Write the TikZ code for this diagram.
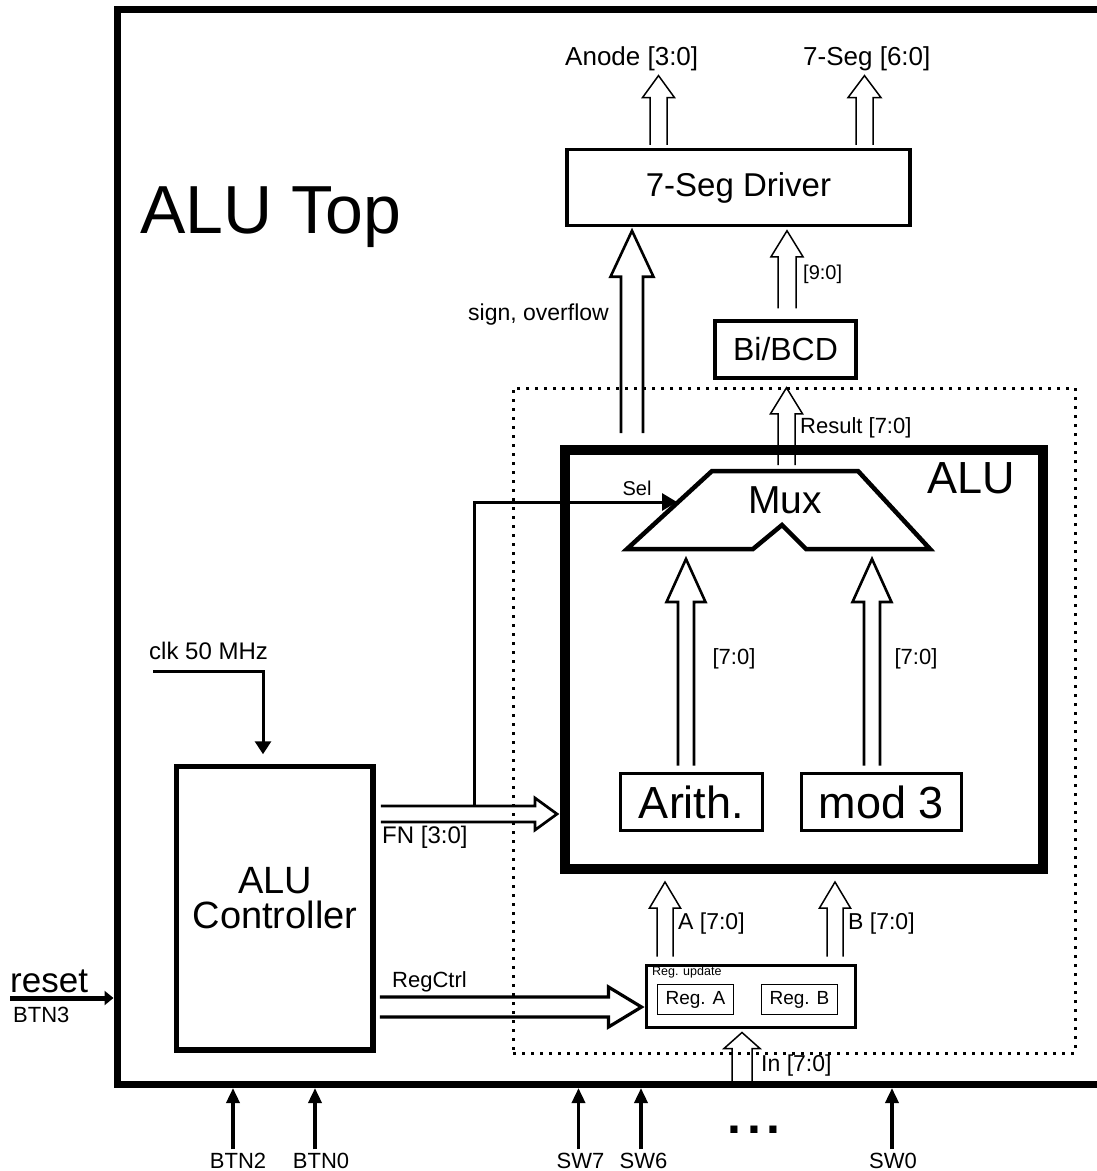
\documentclass[tikz,border=0pt]{standalone}
\usepackage{fontspec}
\setmainfont{Liberation Sans}
\usetikzlibrary{arrows.meta}
\newcommand\fsz[1]{\fontsize{#1}{#1}\selectfont}
% hollow bus arrow going up: #1 start, #2 tip, #3 half shaft, #4 half head, #5 head length, #6 style
\newcommand\upbus[6]{\draw[#6] ([xshift=-#3pt]#1) -- ([xshift=-#3pt,yshift=-#5pt]#2) -- ([xshift=-#4pt,yshift=-#5pt]#2) -- (#2) -- ([xshift=#4pt,yshift=-#5pt]#2) -- ([xshift=#3pt,yshift=-#5pt]#2) -- ([xshift=#3pt]#1);}
% hollow bus arrow going right
\newcommand\rightbus[6]{\draw[#6] ([yshift=#3pt]#1) -- ([yshift=#3pt,xshift=-#5pt]#2) -- ([yshift=#4pt,xshift=-#5pt]#2) -- (#2) -- ([yshift=-#4pt,xshift=-#5pt]#2) -- ([yshift=-#3pt,xshift=-#5pt]#2) -- ([yshift=-#3pt]#1);}
\begin{document}
\begin{tikzpicture}[x=1pt,y=-1pt,
  box/.style={draw,rectangle,inner sep=0pt,line width=3.5pt},
  txt/.style={inner sep=0pt},
  thinbus/.style={line width=1.5pt,line join=miter},
  thickbus/.style={line width=2.6pt,line join=miter},
  fnbus/.style={line width=2.7pt,line join=miter},
  rcbus/.style={line width=3.2pt,line join=miter},
  sig/.style={line width=3.5pt,-{Triangle[length=15pt,width=13pt]}},
]
\useasboundingbox (0,0) rectangle (1097,1171);
\fill[white] (0,0) rectangle (1097,1171);

% outer frame (open to the right)
\draw[line width=7pt] (1097,9.5) -- (117,9.5) -- (117,1084.5) -- (1097,1084.5);
\coordinate (fbot) at (0,1088);
\coordinate (finner) at (0,1081);
\coordinate (fleft) at (113.5,0);

\node[txt, anchor=base west, font=\fsz{68}] (title) at (140,233) {ALU Top};

% blocks
\node[box, minimum width=343pt, minimum height=76pt, font=\fsz{33}] (drv) at (738.5,187.5) {7-Seg Driver};
\node[box, minimum width=141pt, minimum height=57pt, font=\fsz{32}] (bcd) at (785.5,349.5) {Bi/BCD};
\node[draw, line width=3pt, dash pattern=on 3pt off 6pt, inner sep=0pt, minimum width=562pt, minimum height=665pt] (wrap) at (794,720.5) {};
\node[draw, line width=10pt, inner sep=0pt, minimum width=478pt, minimum height=419pt] (alu) at (804,659.5) {};
\node[txt, font=\fsz{45}] (alulbl) at (971,478) {ALU};

% mux
\draw[line width=4.5pt, line join=miter] (712,471) -- (858,471) -- (930,549) -- (806,549) -- (782,525) -- (753,549) -- (627,549) -- cycle;
\node[txt, font=\fsz{39}] (mux) at (785,500) {Mux};
\coordinate (muxT) at (786.5,471);
\coordinate (muxBL) at (686,549);
\coordinate (muxBR) at (872,549);
\coordinate (muxS) at (677,502);

\node[box, line width=3pt, minimum width=142pt, minimum height=57pt, font=\fsz{45}] (arith) at (691.5,802) {Arith.};
\node[box, line width=3pt, minimum width=160pt, minimum height=57pt, font=\fsz{45}] (mod) at (881.5,802) {mod 3};

\node[box, line width=5.5pt, minimum width=196.5pt, minimum height=283.5pt] (ctrl) at (274.75,908.25) {};
\node[txt, align=center, font=\fontsize{38}{35}\selectfont] (ctrltxt) at (275,898) {ALU\\Controller};

\node[box, line width=3pt, minimum width=209pt, minimum height=62pt] (reg) at (751,996.5) {};
\node[txt, anchor=base west, font=\fsz{12.5}] (regup) at (652,975) {Reg. update};
\node[box, line width=1.5pt, minimum width=76pt, minimum height=30pt, font=\fsz{19}] (rega) at (695.5,999.5) {Reg. A};
\node[box, line width=1.5pt, minimum width=76pt, minimum height=30pt, font=\fsz{19}] (regb) at (799.5,999.5) {Reg. B};

% labels
\node[txt, anchor=base west, font=\fsz{26}] (anode) at (565,65) {Anode [3:0]};
\node[txt, anchor=base west, font=\fsz{26}] (sevseg) at (803,65) {7-Seg [6:0]};
\node[txt, anchor=base west, font=\fsz{20}] (l90) at (803,279) {[9:0]};
\node[txt, anchor=base west, font=\fsz{23}] (lso) at (468,320) {sign, overflow};
\node[txt, anchor=base west, font=\fsz{22}] (lres) at (800,433) {Result [7:0]};
\node[txt, anchor=base, font=\fsz{20}] (lsel) at (637,495) {Sel};
\node[txt, anchor=base, font=\fsz{22}] (l70a) at (734,664) {[7:0]};
\node[txt, anchor=base, font=\fsz{22}] (l70b) at (916,664) {[7:0]};
\node[txt, anchor=base west, font=\fsz{24}] (lfn) at (382,843) {FN [3:0]};
\node[txt, anchor=base west, font=\fsz{24}] (lclk) at (149,659) {clk 50 MHz};
\node[txt, anchor=base west, font=\fsz{22}] (lrc) at (392,987) {RegCtrl};
\node[txt, anchor=base west, font=\fsz{23}] (lA) at (678,929) {A [7:0]};
\node[txt, anchor=base west, font=\fsz{23}] (lB) at (848,929) {B [7:0]};
\node[txt, anchor=base west, font=\fsz{23}] (lin) at (761,1071) {In [7:0]};
\node[txt, anchor=base west, font=\fsz{35}] (reset) at (10,992) {reset};
\node[txt, anchor=base west, font=\fsz{22}] (btn3) at (13,1022) {BTN3};
\node[txt, anchor=base, font=\fsz{22}] (btn2) at (238,1168) {BTN2};
\node[txt, anchor=base, font=\fsz{22}] (btn0) at (321,1168) {BTN0};
\node[txt, anchor=base, font=\fsz{22}] (sw7) at (580.5,1168) {SW7};
\node[txt, anchor=base, font=\fsz{22}] (sw6) at (643.5,1168) {SW6};
\node[txt, anchor=base, font=\fsz{22}] (sw0) at (893,1168) {SW0};
\node[txt, anchor=base, font=\bfseries\fsz{50}] (dots) at (754,1133) {.\hspace{5.5pt}.\hspace{5.5pt}.};

% hollow buses
\coordinate (xan) at (658.5,0);
\path (drv.north -| xan) ++(0,-3) coordinate (anB);
\path (anode.south -| xan) ++(0,5) coordinate (anT);
\upbus{anB}{anT}{8.5}{16}{22}{thinbus}

\coordinate (xsg) at (864.5,0);
\path (drv.north -| xsg) ++(0,-3) coordinate (sgB);
\path (sevseg.south -| xsg) ++(0,5) coordinate (sgT);
\upbus{sgB}{sgT}{8.5}{16.5}{22}{thinbus}

\coordinate (xso) at (632,0);
\path (alu.north -| xso) ++(0,-12) coordinate (soB);
\path (drv.south -| xso) ++(0,3.5) coordinate (soT);
\upbus{soB}{soT}{11}{21.5}{46}{thickbus}

\coordinate (x90) at (787,0);
\path (bcd.north -| x90) ++(0,-11) coordinate (nB);
\path (drv.south -| x90) ++(0,3.5) coordinate (nT);
\upbus{nB}{nT}{9}{16}{26}{thinbus}

\coordinate (xres) at (786.5,0);
\path (muxT -| xres) ++(0,-6) coordinate (rB);
\path (bcd.south -| xres) ++(0,8) coordinate (rT);
\upbus{rB}{rT}{8.5}{16}{26}{thinbus}

\coordinate (xar) at (686,0);
\path (arith.north -| xar) ++(0,-6.5) coordinate (aB);
\path (muxBL) ++(0,10) coordinate (aT);
\upbus{aB}{aT}{8}{19.5}{43}{thickbus}

\coordinate (xmd) at (872,0);
\path (mod.north -| xmd) ++(0,-6.5) coordinate (mB);
\path (muxBR) ++(0,10) coordinate (mT);
\upbus{mB}{mT}{8}{19.5}{43}{thickbus}

\coordinate (xA) at (665,0);
\path (reg.north -| xA) ++(0,-7.5) coordinate (AB);
\path (alu.south -| xA) ++(0,8) coordinate (AT);
\upbus{AB}{AT}{8}{15.5}{26}{thinbus}

\coordinate (xB) at (835,0);
\path (reg.north -| xB) ++(0,-7.5) coordinate (BB);
\path (alu.south -| xB) ++(0,8) coordinate (BT);
\upbus{BB}{BT}{8}{15.5}{26}{thinbus}

\coordinate (xin) at (742,0);
\path (finner -| xin) coordinate (iB);
\path (reg.south -| xin) ++(0,3.5) coordinate (iT);
\upbus{iB}{iT}{10}{18}{16}{thinbus}

\coordinate (yfn) at (0,814);
\path (ctrl.east |- yfn) ++(5,0) coordinate (fS);
\path (alu.west |- yfn) ++(-3,0) coordinate (fT);
\rightbus{fS}{fT}{8}{16}{22}{fnbus}

\coordinate (yrc) at (0,1007);
\path (ctrl.east |- yrc) ++(4,0) coordinate (rcS);
\path (reg.west |- yrc) ++(-3.5,0) coordinate (rcT);
\rightbus{rcS}{rcT}{10}{20}{33}{rcbus}

% single-line signals
\coordinate (selB) at (474,806);
\draw[line width=3pt, -{Triangle[length=15pt,width=17pt]}] (selB) |- (muxS);

\coordinate (clkS) at (153,671);
\coordinate (xclk) at (263,0);
\path (ctrl.north -| xclk) ++(0,-9.5) coordinate (clkE);
\draw[line width=3pt, -{Triangle[length=13pt,width=16pt]}] (clkS) -| (clkE);

\coordinate (rstS) at (10,998);
\draw[line width=5pt, -{Triangle[length=9pt,width=14pt]}] (rstS) -- (rstS -| fleft);

\path (btn2.north) ++(-5,-3) coordinate (b2);
\draw[sig] (b2) -- (b2 |- fbot);
\path (btn0.north) ++(-6,-3) coordinate (b0);
\draw[sig] (b0) -- (b0 |- fbot);
\path (sw7.north) ++(-2,-3) coordinate (s7);
\draw[sig] (s7) -- (s7 |- fbot);
\path (sw6.north) ++(-2.5,-3) coordinate (s6);
\draw[sig] (s6) -- (s6 |- fbot);
\path (sw0.north) ++(-1,-3) coordinate (s0);
\draw[sig] (s0) -- (s0 |- fbot);
\end{tikzpicture}
\end{document}
